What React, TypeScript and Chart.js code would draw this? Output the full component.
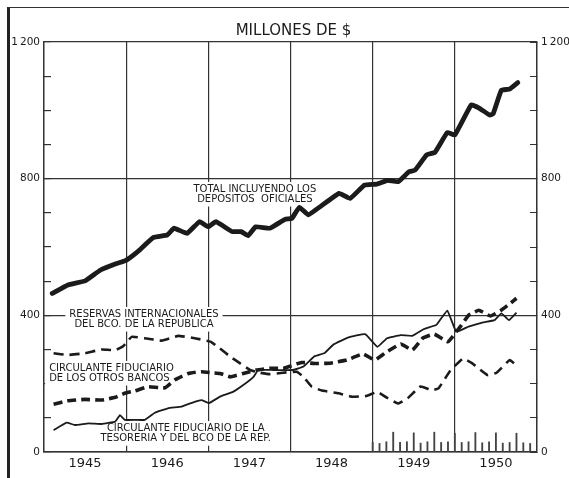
import React, { useEffect, useRef } from 'react';
import { Chart, registerables } from 'chart.js';

Chart.register(...registerables);

// ---- data ----
const chartTitle = 'MILLONES DE $';
const yearLabels = ['1945', '1946', '1947', '1948', '1949', '1950'];
const yTickValues = [0, 400, 800, 1200];
const yTickLabels = ['0', '400', '800', '1\u2009200'];

// months counted from January 1945 (0) to December 1950 (72)
const totalMonths = [1.2, 3.5, 6, 8.2, 10.5, 11.9, 13.6, 16, 18, 19, 20.9, 22.7, 24, 25.1, 27.5, 28.8, 29.8, 30.9, 33, 35.2, 36.2, 37.3, 38.6, 40.2, 43.1, 44.7, 46.8, 48.6, 50.2, 51.7, 53.3, 54.2, 55.9, 57.1, 58.9, 60, 62.4, 63.6, 65.1, 65.6, 66.8, 68, 69.2];
const totalValues = [464, 489, 501, 532, 551, 560, 585, 628, 635, 655, 640, 674, 659, 674, 645, 645, 633, 659, 655, 681, 684, 716, 694, 716, 757, 742, 781, 784, 795, 791, 820, 825, 870, 877, 935, 928, 1016, 1006, 986, 990, 1059, 1062, 1081];

const reservasMonths = [1.4, 3.5, 6, 8.4, 10.4, 11.6, 12.8, 14.7, 17.2, 19.6, 22, 24.3, 25.7, 27.2, 28.6, 30.1, 31.5, 33, 34.9, 36.9, 37.9, 39.1, 40.6, 43, 44.9, 47.1, 48.7, 50, 51.7, 53.1, 55, 56.6, 57.6, 59.3, 61.2, 62.5, 64.8, 66.1, 68, 69];
const reservasValues = [289, 284, 289, 300, 298, 310, 337, 333, 326, 340, 333, 323, 303, 279, 260, 240, 232, 228, 232, 235, 220, 191, 180, 172, 162, 164, 176, 160, 142, 157, 192, 181, 186, 237, 274, 260, 225, 232, 269, 254];

const otrosMonths = [1.4, 3.5, 6, 8.4, 10.4, 11.8, 13.3, 15.2, 17.7, 19.1, 21.1, 23, 24.5, 25.7, 27.2, 29.1, 31, 33, 35, 37.6, 39.5, 41.8, 44.2, 46.6, 48.3, 49.9, 52.1, 53.8, 55.3, 57, 59, 60.8, 62, 63.5, 65.2, 66.7, 68.1, 69];
const otrosValues = [140, 150, 154, 152, 160, 172, 179, 191, 188, 211, 230, 235, 232, 230, 220, 230, 240, 245, 245, 262, 259, 260, 269, 287, 269, 291, 316, 298, 333, 345, 323, 367, 400, 415, 398, 414, 435, 450];

const tesoreriaMonths = [1.4, 3.3, 4.5, 6.5, 8.4, 10.4, 11.1, 11.8, 13.3, 14.7, 16.2, 18.1, 20.1, 22, 23, 24.1, 25.7, 27.6, 29.1, 30.6, 31.3, 33.5, 36.4, 37.9, 39.5, 41, 42.3, 44.4, 46.9, 48.7, 50.1, 52.1, 53.8, 55.5, 57.3, 58.9, 60.2, 62, 64, 65.8, 66.8, 67.9, 69];
const tesoreriaValues = [64, 86, 79, 84, 82, 89, 108, 94, 94, 94, 115, 128, 133, 147, 152, 143, 162, 176, 196, 220, 240, 240, 240, 250, 280, 290, 315, 335, 345, 308, 333, 342, 340, 360, 372, 414, 352, 367, 379, 386, 406, 386, 408];

const tickMonths = [48, 49, 50, 51, 52, 53, 54, 55, 56, 57, 58, 59, 60, 61, 62, 63, 64, 65, 66, 67, 68, 69, 70, 71];
const tickHeights = [28, 25, 30, 58, 28, 30, 56, 26, 30, 58, 28, 30, 55, 28, 30, 57, 27, 30, 56, 26, 28, 55, 27, 25];

const noteLines = [
  ['TOTAL INCLUYENDO LOS', 'DEPOSITOS  OFICIALES'],
  ['RESERVAS INTERNACIONALES', 'DEL BCO. DE LA REPUBLICA'],
  ['CIRCULANTE FIDUCIARIO', 'DE LOS OTROS BANCOS'],
  ['CIRCULANTE FIDUCIARIO DE LA', 'TESORERIA Y DEL BCO DE LA REP.'],
];

// ---- layout / style (not data) ----
const noteAnchors = [
  { month: 30.8, value: 770, align: 'center' },
  { month: 14.6, value: 404, align: 'center' },
  { month: 0.75, value: 246, align: 'left' },
  { month: 20.7, value: 70, align: 'center' },
];

const INK = '#1b1b1b';
const FONT = '"DejaVu Sans", sans-serif';
const NOTE_FONT = `10px ${FONT}`;
const NOTE_LH = 10.8;

const toPoints = (xs: number[], ys: number[]) => xs.map((x, i) => ({ x, y: ys[i] }));

function noteBoxes(chart: any) {
  const ctx = chart.ctx;
  const xs = chart.scales.x;
  const ys = chart.scales.y;
  ctx.save();
  ctx.font = NOTE_FONT;
  const res = noteLines.map((lines, i) => {
    const a = noteAnchors[i];
    const px = xs.getPixelForValue(a.month);
    const py = ys.getPixelForValue(a.value);
    const widths = lines.map((l) => ctx.measureText(l).width);
    const w = Math.max(...widths);
    const left = a.align === 'center' ? px - w / 2 : px;
    return { lines, px, py, w, left, align: a.align };
  });
  ctx.restore();
  return res;
}

const notesPlugin = {
  id: 'notes',
  beforeDatasetsDraw(chart: any) {
    const ctx = chart.ctx;
    const boxes = noteBoxes(chart);
    ctx.save();
    ctx.fillStyle = '#ffffff';
    boxes.forEach((b) => {
      ctx.fillRect(b.left - 4, b.py - 7, b.w + 8, NOTE_LH * b.lines.length + 3);
    });
    ctx.restore();
  },
  afterDatasetsDraw(chart: any) {
    const ctx = chart.ctx;
    const boxes = noteBoxes(chart);
    ctx.save();
    ctx.font = NOTE_FONT;
    ctx.fillStyle = INK;
    ctx.textBaseline = 'middle';
    boxes.forEach((b) => {
      ctx.textAlign = b.align as CanvasTextAlign;
      b.lines.forEach((l, j) => ctx.fillText(l, b.px, b.py + j * NOTE_LH));
    });
    const ca = chart.chartArea;
    ctx.font = `15px ${FONT}`;
    ctx.textAlign = 'center';
    ctx.fillText(chartTitle, (ca.left + ca.right) / 2 + 3, ca.top - 11);
    ctx.restore();
  },
};

const yLabel = (v: number) => {
  const i = yTickValues.indexOf(v);
  return i >= 0 ? yTickLabels[i] : '';
};

export default function App() {
  const ref = useRef<HTMLCanvasElement | null>(null);

  useEffect(() => {
    if (!ref.current) return;
    const lineBase = { pointRadius: 0, fill: false, borderColor: INK, tension: 0.1, borderJoinStyle: 'round' as const, yAxisID: 'y' };
    const chart = new Chart(ref.current, {
      type: 'line',
      data: {
        datasets: [
          { ...lineBase, label: 'Total incluyendo los depositos oficiales', data: toPoints(totalMonths, totalValues), borderWidth: 4.8, borderCapStyle: 'round' },
          { ...lineBase, label: 'Reservas internacionales del Bco. de la Republica', data: toPoints(reservasMonths, reservasValues), borderWidth: 2.6, borderDash: [10, 6] },
          { ...lineBase, label: 'Circulante fiduciario de los otros bancos', data: toPoints(otrosMonths, otrosValues), borderWidth: 3.6, borderDash: [9, 5] },
          { ...lineBase, label: 'Circulante fiduciario de la Tesoreria y del Bco de la Rep.', data: toPoints(tesoreriaMonths, tesoreriaValues), borderWidth: 1.8 },
          { type: 'bar', label: 'marcas', data: toPoints(tickMonths, tickHeights), backgroundColor: '#444', barThickness: 1.2, yAxisID: 'y' } as any,
        ],
      },
      options: {
        animation: false,
        responsive: false,
        devicePixelRatio: 1,
        layout: { padding: { top: 42, left: 0, right: 0, bottom: 0 } },
        plugins: { legend: { display: false }, tooltip: { enabled: false }, title: { display: false } },
        scales: {
          x: {
            type: 'linear',
            min: 0,
            max: 72,
            offset: false,
            afterFit: (s: any) => { s.height = 26; },
            ticks: {
              stepSize: 6,
              autoSkip: false,
              maxRotation: 0,
              padding: 4,
              color: INK,
              font: { family: FONT, size: 13 },
              callback: (v: any) => (Number(v) % 12 === 6 ? yearLabels[(Number(v) - 6) / 12] : ''),
            },
            grid: {
              offset: false,
              drawTicks: false,
              lineWidth: 1.2,
              color: (c: any) => (c.tick && c.tick.value % 12 === 0 ? '#333' : 'rgba(0,0,0,0)'),
            },
            border: { display: true, color: '#333', width: 1.4 },
          },
          y: {
            position: 'left',
            min: 0,
            max: 1200,
            afterFit: (s: any) => { s.width = 44; },
            ticks: { stepSize: 100, autoSkip: false, padding: 11, color: INK, font: { family: FONT, size: 10.5 }, callback: (v: any) => yLabel(Number(v)) },
            grid: {
              drawTicks: true,
              tickLength: -7,
              tickColor: '#333',
              lineWidth: 1.2,
              color: (c: any) => (c.tick && c.tick.value % 400 === 0 ? '#333' : 'rgba(0,0,0,0)'),
            },
            border: { display: true, color: '#333', width: 1.4 },
          },
          y2: {
            position: 'right',
            min: 0,
            max: 1200,
            afterFit: (s: any) => { s.width = 32; },
            ticks: { stepSize: 100, autoSkip: false, padding: 11, color: INK, font: { family: FONT, size: 10.5 }, callback: (v: any) => yLabel(Number(v)) },
            grid: {
              drawOnChartArea: false,
              drawTicks: true,
              tickLength: -7,
              tickColor: '#333',
            },
            border: { display: true, color: '#333', width: 1.4 },
          },
        },
      },
      plugins: [notesPlugin],
    });
    return () => chart.destroy();
  }, []);

  return (
    <div style={{ position: 'fixed', left: 0, top: 0, width: 569, height: 478, background: '#fff', overflow: 'hidden' }}>
      <canvas ref={ref} width={569} height={478} style={{ position: 'absolute', left: 0, top: 0, width: 569, height: 478 }} />
      <div style={{ position: 'absolute', left: 7, top: 7, right: 0, bottom: 0, borderTop: '1.5px solid #333', borderLeft: '3px solid #222', pointerEvents: 'none' }} />
    </div>
  );
}
